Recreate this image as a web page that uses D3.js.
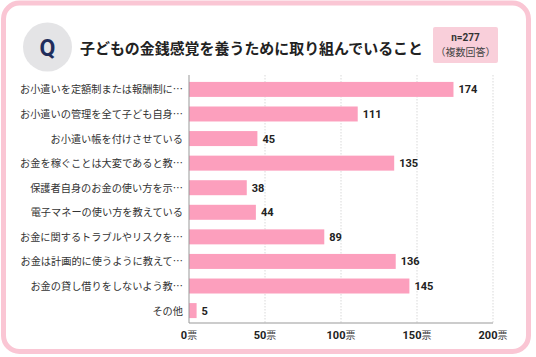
<!DOCTYPE html>
<html><head><meta charset="utf-8">
<script src="https://cdn.jsdelivr.net/npm/d3@7"></script>
<style>
html,body{margin:0;padding:0;background:#fff;}
svg{display:block;font-family:"Noto Sans CJK JP","Noto Sans",sans-serif;}
</style></head>
<body>
<svg id="c" width="536" height="357"></svg>
<script>
const categories = [
  "お小遣いを定額制または報酬制に…",
  "お小遣いの管理を全て子ども自身…",
  "お小遣い帳を付けさせている",
  "お金を稼ぐことは大変であると教…",
  "保護者自身のお金の使い方を示…",
  "電子マネーの使い方を教えている",
  "お金に関するトラブルやリスクを…",
  "お金は計画的に使うように教えて…",
  "お金の貸し借りをしないよう教…",
  "その他"
];
const values = [174, 111, 45, 135, 38, 44, 89, 136, 145, 5];
const tickValues = [0, 50, 100, 150, 200];
const tickUnit = "票";
const title = "子どもの金銭感覚を養うために取り組んでいること";
const sampleLabel = "n=277";
const sampleNote = "（複数回答）";

const svg = d3.select("#c");
// frame
svg.append("rect").attr("x",0).attr("y",0).attr("width",536).attr("height",357).attr("fill","#fff");
svg.append("rect").attr("x",3.5).attr("y",3).attr("width",525).attr("height",348.5)
  .attr("rx",16).attr("fill","#fff").attr("stroke","#fac6d4").attr("stroke-width",5);

// Q badge
svg.append("circle").attr("cx",47.5).attr("cy",47).attr("r",24.5).attr("fill","#e4e4e6");
svg.append("text").attr("x",47.5).attr("y",55.5).attr("text-anchor","middle")
  .attr("font-size",23).attr("font-weight",700).attr("fill","#1f2d5c")
  .attr("font-family","Roboto, 'Noto Sans', sans-serif").text("Q");
svg.append("text").attr("x",80).attr("y",54).attr("font-size",15).attr("font-weight",600)
  .attr("fill","#222").attr("textLength",343).attr("lengthAdjust","spacingAndGlyphs").text(title);

// n box
svg.append("rect").attr("x",433).attr("y",27).attr("width",65).attr("height",36).attr("rx",2).attr("fill","#f9cfda");
svg.append("text").attr("x",465.5).attr("y",41).attr("text-anchor","middle").attr("font-size",10)
  .attr("font-weight",700).attr("fill","#333").attr("font-family","Roboto, sans-serif").text(sampleLabel);
svg.append("text").attr("x",465.5).attr("y",56).attr("text-anchor","middle").attr("font-size",10)
  .attr("fill","#444").text(sampleNote);

const x = d3.scaleLinear().domain([0,200]).range([189,493]);
const y = d3.scaleBand().domain(categories).range([77,323]).paddingInner(0.39).paddingOuter(0.2);

// grid
svg.append("g").selectAll("line").data(tickValues.slice(1)).join("line")
  .attr("x1",d=>x(d)).attr("x2",d=>x(d)).attr("y1",75).attr("y2",323)
  .attr("stroke","#cfcfcf").attr("stroke-width",0.8).attr("stroke-dasharray","1.5,1.5");

// bars
svg.append("g").selectAll("rect").data(values).join("rect")
  .attr("x",x(0)).attr("y",(d,i)=>y(categories[i]))
  .attr("width",d=>x(d)-x(0)).attr("height",y.bandwidth()).attr("fill","#fc9fbd");

// axis lines
svg.append("line").attr("x1",x(0)).attr("x2",x(0)).attr("y1",75).attr("y2",323).attr("stroke","#999").attr("stroke-width",1);
svg.append("line").attr("x1",x(0)).attr("x2",x(200)).attr("y1",323).attr("y2",323).attr("stroke","#999").attr("stroke-width",1);

// category labels
svg.append("g").selectAll("text").data(categories).join("text")
  .attr("x",183).attr("y",d=>y(d)+y.bandwidth()/2+4)
  .attr("text-anchor","end").attr("font-size",10.2).attr("fill","#333").text(d=>d);

// value labels
svg.append("g").selectAll("text").data(values).join("text")
  .attr("x",d=>x(d)+5).attr("y",(d,i)=>y(categories[i])+y.bandwidth()/2+4)
  .attr("font-size",11).attr("font-weight",700).attr("fill","#222")
  .attr("font-family","Roboto, 'Noto Sans', sans-serif").text(d=>d);

// tick labels
const tg = svg.append("g").selectAll("text").data(tickValues).join("text")
  .attr("x",d=>x(d)).attr("y",339).attr("text-anchor","middle").attr("fill","#222");
tg.append("tspan").attr("font-size",11).attr("font-weight",700).attr("font-family","Roboto, sans-serif").text(d=>d);
tg.append("tspan").attr("font-size",10).attr("fill","#444").text(tickUnit);
</script>
</body></html>
